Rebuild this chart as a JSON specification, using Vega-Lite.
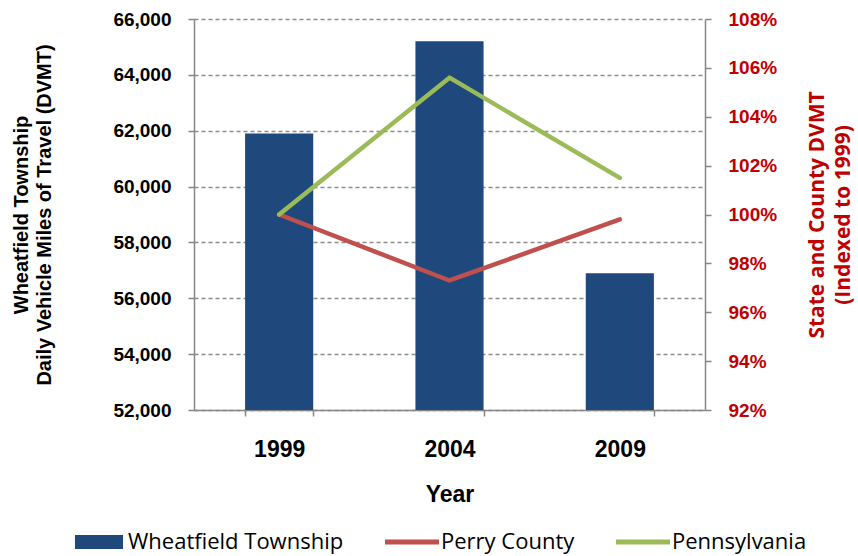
{
  "$schema": "https://vega.github.io/schema/vega-lite/v6.json",
  "width": 511,
  "height": 391,
  "autosize": "none",
  "padding": {"left": 194, "top": 19, "right": 153, "bottom": 146},
  "background": "white",
  "config": {"view": {"stroke": null}, "font": "Liberation Sans"},
  "data": {
    "values": [
      {"year": "1999", "series": "Wheatfield Township", "value": 61900},
      {"year": "2004", "series": "Wheatfield Township", "value": 65200},
      {"year": "2009", "series": "Wheatfield Township", "value": 56900},
      {"year": "1999", "series": "Perry County", "value": 1.0},
      {"year": "2004", "series": "Perry County", "value": 0.973},
      {"year": "2009", "series": "Perry County", "value": 0.998},
      {"year": "1999", "series": "Pennsylvania", "value": 1.0},
      {"year": "2004", "series": "Pennsylvania", "value": 1.056},
      {"year": "2009", "series": "Pennsylvania", "value": 1.015}
    ]
  },
  "encoding": {
    "x": {
      "field": "year",
      "type": "ordinal",
      "scale": {"paddingInner": 0.6, "paddingOuter": 0.3},
      "axis": {
        "title": "Year",
        "labelAngle": 0,
        "labelFont": "Liberation Sans",
        "labelFontSize": 23,
        "labelFontWeight": "bold",
        "labelColor": "#000000",
        "labelPadding": 22,
        "tickBand": "extent",
        "tickSize": 6,
        "tickColor": "#868686",
        "tickWidth": 1.5,
        "domainColor": "#868686",
        "domainWidth": 1.5,
        "titleFont": "Liberation Sans",
        "titleFontSize": 23,
        "titleFontWeight": "bold",
        "titleColor": "#000000",
        "titlePadding": 22
      }
    }
  },
  "layer": [
    {
      "transform": [{"filter": "datum.series === 'Wheatfield Township'"}],
      "mark": {"type": "bar", "color": "#1F497D", "clip": true},
      "encoding": {
        "y": {
          "field": "value",
          "type": "quantitative",
          "scale": {"domain": [52000, 66000], "nice": false, "zero": false},
          "axis": {
            "orient": "left",
            "values": [52000, 54000, 56000, 58000, 60000, 62000, 64000, 66000],
            "format": ",.0f",
            "grid": true,
            "gridColor": "#8c8c8c",
            "gridDash": [4, 3],
            "gridWidth": 1.3,
            "domainColor": "#868686",
            "domainWidth": 1.5,
            "tickColor": "#868686",
            "tickWidth": 1.5,
            "tickSize": 6,
            "labelFont": "Liberation Sans",
            "labelFontSize": 19,
            "labelFontWeight": "bold",
            "labelColor": "#000000",
            "labelPadding": 17,
            "title": ["Wheatfield Township", "Daily Vehicle Miles of Travel (DVMT)"],
            "titleFont": "Liberation Sans",
            "titleFontSize": 20,
            "titleFontWeight": "bold",
            "titleColor": "#000000",
            "titleLineHeight": 23,
            "titlePadding": 58
          }
        },
        "color": {
          "field": "series",
          "type": "nominal",
          "scale": {
            "domain": ["Wheatfield Township", "Perry County", "Pennsylvania"],
            "range": ["#1F497D", "#C0504D", "#9BBB59"]
          },
          "legend": {
            "title": null,
            "orient": "none",
            "direction": "horizontal",
            "legendX": -122,
            "legendY": 496,
            "symbolSize": 2916,
            "symbolStrokeWidth": 0,
            "symbolOpacity": 1,
            "labelFont": "Open Sans",
            "labelFontSize": 22,
            "labelColor": "#000000",
            "labelOffset": 2,
            "columnPadding": 41,
            "labelLimit": 400,
            "encode": {
              "symbols": {
                "update": {
                  "shape": {"signal": "datum.value === 'Wheatfield Township' ? 'M-0.89,-0.26H0.89V0.26H-0.89Z' : 'M-1,-0.09H1V0.09H-1Z'"},
                  "fill": {"signal": "datum.value === 'Wheatfield Township' ? '#1F497D' : (datum.value === 'Perry County' ? '#C0504D' : '#9BBB59')"},
                  "strokeWidth": {"value": 0},
                  "opacity": {"value": 1}
                }
              }
            }
          }
        }
      }
    },
    {
      "transform": [{"filter": "datum.series !== 'Wheatfield Township'"}],
      "mark": {"type": "line", "strokeWidth": 4.5, "strokeCap": "round", "strokeJoin": "round"},
      "encoding": {
        "y": {
          "field": "value",
          "type": "quantitative",
          "scale": {"domain": [0.92, 1.08], "nice": false, "zero": false},
          "axis": {
            "orient": "right",
            "values": [0.92, 0.94, 0.96, 0.98, 1.0, 1.02, 1.04, 1.06, 1.08],
            "format": ".0%",
            "grid": false,
            "domainColor": "#868686",
            "domainWidth": 1.5,
            "tickColor": "#868686",
            "tickWidth": 1.5,
            "tickSize": 6,
            "labelFont": "Liberation Sans",
            "labelFontSize": 19,
            "labelFontWeight": "bold",
            "labelColor": "#C00000",
            "labelPadding": 17,
            "title": ["State and County DVMT", "(Indexed to 1999)"],
            "titleFont": "Open Sans",
            "titleFontSize": 21,
            "titleFontWeight": "bold",
            "titleColor": "#C00000",
            "titleAngle": -90,
            "titleBaseline": "top",
            "titleLineHeight": 26,
            "titlePadding": 4
          }
        },
        "color": {"field": "series", "type": "nominal"}
      }
    }
  ],
  "resolve": {"scale": {"y": "independent"}}
}
